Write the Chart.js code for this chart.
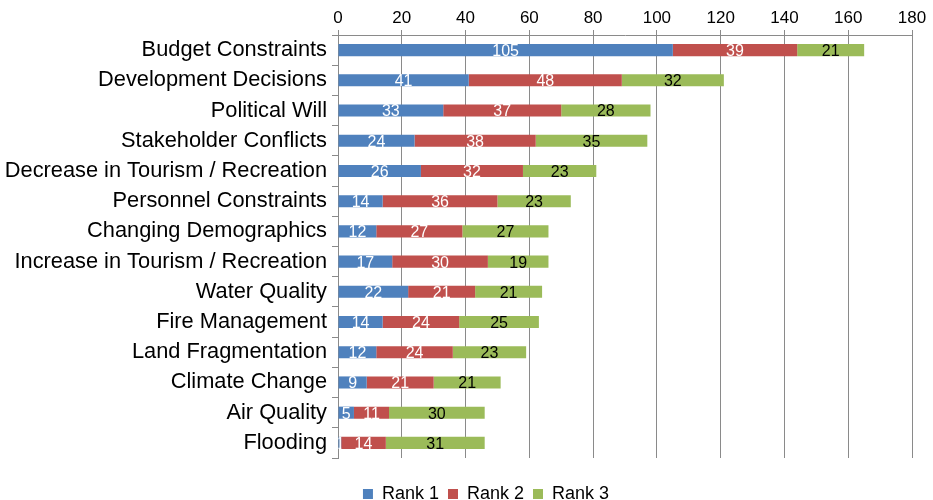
<!DOCTYPE html>
<html>
<head>
<meta charset="utf-8">
<script src="https://cdn.jsdelivr.net/npm/chart.js@4/dist/chart.umd.min.js"></script>
<style>
  html, body { margin: 0; padding: 0; background: #fff; }
  #wrap { width: 933px; height: 500px; }
</style>
</head>
<body>
<div id="wrap"><canvas id="c"></canvas></div>
<script>
const categories = [
  "Budget Constraints",
  "Development Decisions",
  "Political Will",
  "Stakeholder Conflicts",
  "Decrease in Tourism / Recreation",
  "Personnel Constraints",
  "Changing Demographics",
  "Increase in Tourism / Recreation",
  "Water Quality",
  "Fire Management",
  "Land Fragmentation",
  "Climate Change",
  "Air Quality",
  "Flooding"
];
const rank1 = [105, 41, 33, 24, 26, 14, 12, 17, 22, 14, 12, 9, 5, 1];
const rank2 = [39, 48, 37, 38, 32, 36, 27, 30, 21, 24, 24, 21, 11, 14];
const rank3 = [21, 32, 28, 35, 23, 23, 27, 19, 21, 25, 23, 21, 30, 31];
const seriesNames = ["Rank 1", "Rank 2", "Rank 3"];

const FONT = "'Liberation Sans', Arial, Helvetica, sans-serif";

// Writes each segment's value in the middle of its bar, clipped to the bar.
const barValues = {
  id: "barValues",
  afterDatasetsDraw(chart) {
    const ctx = chart.ctx;
    chart.data.datasets.forEach((ds, di) => {
      const meta = chart.getDatasetMeta(di);
      if (meta.hidden) return;
      meta.data.forEach((bar, i) => {
        const v = ds.data[i];
        const left = Math.min(bar.x, bar.base);
        const right = Math.max(bar.x, bar.base);
        const h = bar.height;
        ctx.save();
        ctx.beginPath();
        ctx.rect(left, bar.y - h / 2 - 3, right - left, h + 6);
        ctx.clip();
        ctx.font = "16px " + FONT;
        ctx.fillStyle = ds.labelColor;
        ctx.textAlign = "center";
        ctx.textBaseline = "middle";
        ctx.fillText(String(v), (left + right) / 2, bar.y + 1.5);
        ctx.restore();
      });
    });
  }
};

// Moves the legend row down and to the right below the plot.
const legendOffset = {
  id: "legendOffset",
  afterLayout(chart) {
    const lg = chart.legend;
    if (!lg) return;
    const dx = 30, dy = 18;
    lg.left += dx; lg.right += dx;
    lg.top += dy; lg.bottom += dy;
  }
};

new Chart(document.getElementById("c"), {
  type: "bar",
  data: {
    labels: categories,
    datasets: [
      { label: seriesNames[0], data: rank1, backgroundColor: "#4F81BD", labelColor: "#ffffff" },
      { label: seriesNames[1], data: rank2, backgroundColor: "#C0504D", labelColor: "#ffffff" },
      { label: seriesNames[2], data: rank3, backgroundColor: "#9BBB59", labelColor: "#000000" }
    ]
  },
  options: {
    indexAxis: "y",
    responsive: true,
    maintainAspectRatio: false,
    animation: false,
    barPercentage: 0.4,
    categoryPercentage: 1.0,
    layout: { padding: { top: 0, right: 21, bottom: 5, left: 0 } },
    scales: {
      x: {
        position: "top",
        stacked: true,
        min: 0,
        max: 180,
        ticks: { stepSize: 20, color: "#000", font: { family: FONT, size: 17 }, padding: 1 },
        grid: { color: "#8a8a8a", lineWidth: 1, tickLength: 5, tickColor: "#8a8a8a" },
        border: { display: true, color: "#8a8a8a" },
        afterFit(scale) { scale.height = 35; }
      },
      y: {
        stacked: true,
        ticks: { color: "#000", font: { family: FONT, size: 21.8 }, padding: 5 },
        grid: { display: true, drawOnChartArea: false, offset: true, tickLength: 6, color: "#8a8a8a" },
        border: { display: true, color: "#8a8a8a" },
        afterFit(scale) { scale.width = 338; }
      }
    },
    plugins: {
      legend: {
        position: "bottom",
        labels: {
          boxWidth: 10,
          boxHeight: 10,
          padding: 9,
          color: "#000",
          font: { family: FONT, size: 18 }
        }
      },
      tooltip: { enabled: false }
    }
  },
  plugins: [barValues, legendOffset]
});
</script>
</body>
</html>
